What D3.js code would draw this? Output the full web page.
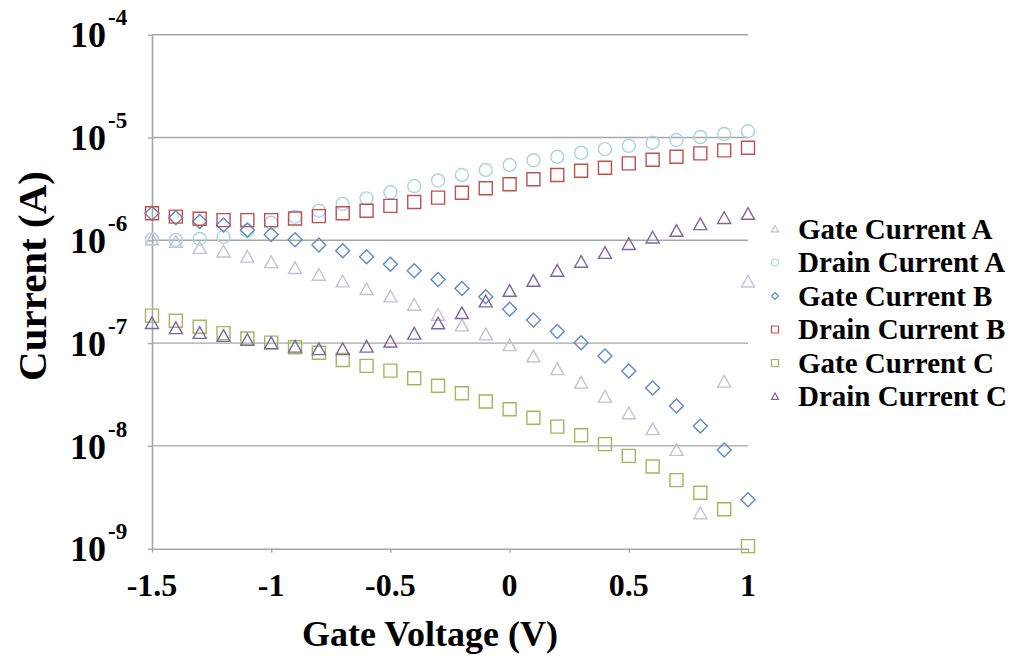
<!DOCTYPE html>
<html><head><meta charset="utf-8">
<script src="https://cdn.jsdelivr.net/npm/d3@7"></script>
<style>body{margin:0;background:#fff;}svg{display:block;}</style>
</head><body>
<svg id="c" width="1015" height="658"></svg>
<script>
const voltages = [-1.5,-1.4,-1.3,-1.2,-1.1,-1.0,-0.9,-0.8,-0.7,-0.6,-0.5,-0.4,-0.3,-0.2,-0.1,0.0,0.1,0.2,0.3,0.4,0.5,0.6,0.7,0.8,0.9,1.0];
const gateA  = [1.02e-6,9.6e-7,8.4e-7,7.75e-7,6.9e-7,6.1e-7,5.35e-7,4.6e-7,3.96e-7,3.34e-7,2.83e-7,2.35e-7,1.88e-7,1.48e-7,1.21e-7,9.5e-8,7.4e-8,5.55e-8,4.1e-8,3.0e-8,2.07e-8,1.45e-8,9.1e-9,2.2e-9,4.2e-8,3.95e-7];
const drainA = [1.02e-6,1.01e-6,1.03e-6,1.08e-6,1.24e-6,1.48e-6,1.7e-6,1.94e-6,2.26e-6,2.56e-6,2.93e-6,3.37e-6,3.82e-6,4.32e-6,4.83e-6,5.4e-6,6.0e-6,6.5e-6,7.1e-6,7.7e-6,8.3e-6,8.9e-6,9.45e-6,1.01e-5,1.08e-5,1.15e-5];
const gateB  = [1.83e-6,1.66e-6,1.52e-6,1.41e-6,1.26e-6,1.14e-6,1.01e-6,9.0e-7,7.9e-7,6.9e-7,5.85e-7,5.05e-7,4.15e-7,3.4e-7,2.83e-7,2.13e-7,1.68e-7,1.3e-7,1.01e-7,7.5e-8,5.35e-8,3.65e-8,2.45e-8,1.56e-8,9.1e-9,3.0e-9];
const drainB = [1.83e-6,1.7e-6,1.62e-6,1.57e-6,1.57e-6,1.57e-6,1.63e-6,1.72e-6,1.83e-6,1.94e-6,2.16e-6,2.36e-6,2.6e-6,2.9e-6,3.21e-6,3.51e-6,3.92e-6,4.32e-6,4.75e-6,5.08e-6,5.6e-6,6.08e-6,6.5e-6,7.0e-6,7.5e-6,7.96e-6];
const gateC  = [1.85e-7,1.65e-7,1.44e-7,1.25e-7,1.11e-7,1.01e-7,9.1e-8,8.05e-8,6.85e-8,6.0e-8,5.4e-8,4.55e-8,3.85e-8,3.25e-8,2.7e-8,2.27e-8,1.88e-8,1.54e-8,1.27e-8,1.04e-8,8.0e-9,6.3e-9,4.65e-9,3.5e-9,2.42e-9,1.06e-9];
const drainC = [1.56e-7,1.39e-7,1.25e-7,1.17e-7,1.07e-7,9.95e-8,9.2e-8,8.7e-8,8.7e-8,9.2e-8,1.03e-7,1.23e-7,1.55e-7,1.95e-7,2.53e-7,3.21e-7,4.02e-7,5.03e-7,6.15e-7,7.5e-7,9.15e-7,1.06e-6,1.23e-6,1.43e-6,1.64e-6,1.8e-6];
const seriesNames = ["Gate Current A","Drain Current A","Gate Current B","Drain Current B","Gate Current C","Drain Current C"];
const yTickExps = [-9,-8,-7,-6,-5,-4];
const xTicks = [-1.5,-1,-0.5,0,0.5,1];
const xTickLabels = ["-1.5","-1","-0.5","0","0.5","1"];

const seriesData = [gateA, drainA, gateB, drainB, gateC, drainC];
const shapes = ["triangle","circle","diamond","square","square","triangle"];
const colors = ["#c8bedb","#a9d4e4","#5f8ac6","#c0504d","#9bbb59","#8064a2"];

const svg = d3.select("#c");
const x = d3.scaleLinear().domain([-1.5, 1]).range([152, 748]);
const y = d3.scaleLog().domain([1e-9, 1e-4]).range([548.7, 34.7]);
const font = "'Liberation Serif','Times New Roman',serif";
const gridColor = "#a6a6a6";

// gridlines
svg.append("g").selectAll("line").data(yTickExps.filter(e => e > -9)).join("line")
  .attr("x1", x(-1.5)).attr("x2", x(1)).attr("y1", d => y(Math.pow(10,d))).attr("y2", d => y(Math.pow(10,d)))
  .attr("stroke", gridColor).attr("stroke-width", 1.4);

// y axis
const yAxis = svg.append("g").attr("transform", `translate(${x(-1.5)},0)`)
  .call(d3.axisLeft(y).tickValues(yTickExps.map(e => Math.pow(10,e))).tickFormat("").tickSize(4).tickSizeOuter(0));
yAxis.select(".domain").attr("stroke", gridColor).attr("stroke-width", 1.6);
yAxis.selectAll(".tick line").attr("stroke", gridColor).attr("stroke-width", 1.4);

// y tick labels with superscripts
const yl = svg.append("g").selectAll("text").data(yTickExps).join("text")
  .attr("x", 70).attr("y", d => y(Math.pow(10,d)) + 12.6)
  .attr("font-family", font).attr("font-weight", "bold").attr("font-size", 36).attr("fill", "#000");
yl.append("tspan").text("10");
yl.append("tspan").attr("font-size", 23).attr("dy", -22).attr("dx", 2).text(d => String(d));

// x axis
const xAxis = svg.append("g").attr("transform", `translate(0,${y(1e-9)})`)
  .call(d3.axisBottom(x).tickValues(xTicks).tickFormat("").tickSize(4).tickSizeOuter(0));
xAxis.select(".domain").attr("stroke", gridColor).attr("stroke-width", 1.6);
xAxis.selectAll(".tick line").attr("stroke", gridColor).attr("stroke-width", 1.4);
svg.append("g").selectAll("text").data(xTicks).join("text")
  .attr("x", d => x(d)).attr("y", 596).attr("text-anchor", "middle")
  .attr("font-family", font).attr("font-weight", "bold").attr("font-size", 32)
  .text((d,i) => xTickLabels[i]);

// titles
svg.append("text").attr("x", 430).attr("y", 646).attr("text-anchor", "middle")
  .attr("font-family", font).attr("font-weight", "bold").attr("font-size", 36).text("Gate Voltage (V)");
svg.append("text").attr("transform", "translate(46,276) rotate(-90)").attr("text-anchor", "middle")
  .attr("font-family", font).attr("font-weight", "bold").attr("font-size", 41).text("Current (A)");

function symbolPath(shape, s) {
  if (shape === "square") return `M${-s/2},${-s/2}h${s}v${s}h${-s}Z`;
  if (shape === "circle") { const r = s/2; return `M${r},0A${r},${r} 0 1,1 ${-r},0A${r},${r} 0 1,1 ${r},0Z`; }
  if (shape === "diamond") { const h = s/2; return `M0,${-h}L${h},0L0,${h}L${-h},0Z`; }
  if (shape === "triangle") { const h = s*0.9; return `M0,${-h*0.55}L${s/2},${h*0.45}L${-s/2},${h*0.45}Z`; }
}

// markers
seriesData.forEach((vals, si) => {
  svg.append("g").selectAll("path").data(vals).join("path")
    .attr("d", symbolPath(shapes[si], shapes[si] === "diamond" ? 14 : 13))
    .attr("transform", (d,i) => `translate(${x(voltages[i])},${y(d)})`)
    .attr("fill", "none").attr("stroke", colors[si]).attr("stroke-width", 1.4);
});

// legend
const lg = svg.append("g").selectAll("g").data(seriesNames).join("g")
  .attr("transform", (d,i) => `translate(775,${229 + i*33.5})`);
lg.append("path").attr("d", (d,i) => symbolPath(shapes[i], 7))
  .attr("fill", "none").attr("stroke", (d,i) => colors[i]).attr("stroke-width", 1.2);
lg.append("text").attr("x", 23).attr("y", 9.5).attr("font-family", font).attr("font-weight", "bold")
  .attr("font-size", 29).text(d => d);
</script>
</body></html>
